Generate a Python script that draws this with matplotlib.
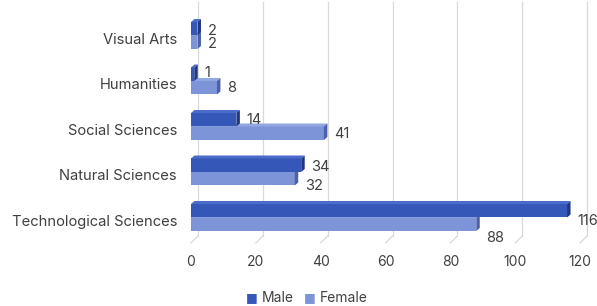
import matplotlib
matplotlib.use("Agg")
import matplotlib.pyplot as plt
from matplotlib.patches import Polygon, Rectangle

categories = ["Visual Arts", "Humanities", "Social Sciences", "Natural Sciences", "Technological Sciences"]
male = [2, 1, 14, 34, 116]
female = [2, 8, 41, 32, 88]
xticks = [0, 20, 40, 60, 80, 100, 120]

# style
W, H, DPI = 597, 306, 100
male_front, male_top, male_side = "#3557b7", "#4b6cc8", "#1f3784"
fem_front, fem_top, fem_side = "#7d95d8", "#93a8e0", "#4d61a6"
text_col = "#404040"
grid_col = "#d9d9d9"
FONT = "Inter"
male_dy = [2, -1, 0, 2, 10]     # label nudges in px (downwards)
fem_dy = [2, 0, 1, 7, 14]

fig = plt.figure(figsize=(W / DPI, H / DPI), dpi=DPI)
x0px, x1px = 191, 580
ytop, ybot = 11, 243
ax = fig.add_axes([x0px / W, 1 - ybot / H, (x1px - x0px) / W, (ybot - ytop) / H])
c0, cs = 35.5, 45.5
ax.set_xlim(0, 120)
ax.set_ylim((ybot - c0) / cs, (ytop - c0) / cs)
for s in ax.spines.values():
    s.set_visible(False)
ax.set_xticks([])
ax.set_yticks([])
ax.patch.set_alpha(0)

pxx = 120 / (x1px - x0px)   # data per px in x
pxy = 1 / cs                # data per px in y

# gridlines on back plane with floor diagonal
gdx, gdy = 7 * pxx, 7 * pxy
ylo, yhi = ax.get_ylim()
for t in xticks:
    ax.plot([t + gdx, t + gdx], [yhi - 9 * pxy, ylo - gdy], color=grid_col, lw=0.9, zorder=1, clip_on=False)
    ax.plot([t + gdx, t], [ylo - gdy, ylo], color=grid_col, lw=0.9, zorder=1, clip_on=False)
    ax.text(t, ylo + 19 * pxy, str(t), ha="center", va="center", fontsize=10,
            color=text_col, family=FONT)

bh = 13.5 * pxy
bdx, bdy = 3.5 * pxx, 3 * pxy

def bar3d(v, ytop_, front, top, side, z):
    ybot_ = ytop_ + bh
    ax.add_patch(Rectangle((0, ytop_), v, bh, facecolor=front, edgecolor="none", zorder=z))
    ax.add_patch(Polygon([(0, ytop_), (v, ytop_), (v + bdx, ytop_ - bdy), (bdx, ytop_ - bdy)],
                         closed=True, facecolor=top, edgecolor="none", zorder=z))
    ax.add_patch(Polygon([(v, ytop_), (v, ybot_), (v + bdx, ybot_ - bdy), (v + bdx, ytop_ - bdy)],
                         closed=True, facecolor=side, edgecolor="none", zorder=z))

for i, (m, f) in enumerate(zip(male, female)):
    bar3d(f, i, fem_front, fem_top, fem_side, 3 + i * 2)
    bar3d(m, i - bh, male_front, male_top, male_side, 4 + i * 2)
    ax.text(m + 10 * pxx, i - bh / 2 + male_dy[i] * pxy, str(m), ha="left", va="center",
            fontsize=10.5, color=text_col, family=FONT, zorder=20)
    ax.text(f + 10 * pxx, i + bh / 2 + fem_dy[i] * pxy, str(f), ha="left", va="center",
            fontsize=10.5, color=text_col, family=FONT, zorder=20)
    ax.text(-14 * pxx, i + 4.5 * pxy, categories[i], ha="right", va="center", fontsize=10.6,
            color=text_col, family=FONT)

# legend
ly = 1 - 298 / H
fig.text(258 / W, ly, "\u25a0", color=male_front, fontsize=9, ha="right", va="center", family="DejaVu Sans")
fig.text(262 / W, ly, "Male", color=text_col, fontsize=10, ha="left", va="center", family=FONT)
fig.text(316 / W, ly, "\u25a0", color=fem_front, fontsize=9, ha="right", va="center", family="DejaVu Sans")
fig.text(320 / W, ly, "Female", color=text_col, fontsize=10, ha="left", va="center", family=FONT)

fig.savefig("out.png", dpi=DPI, facecolor="white")
